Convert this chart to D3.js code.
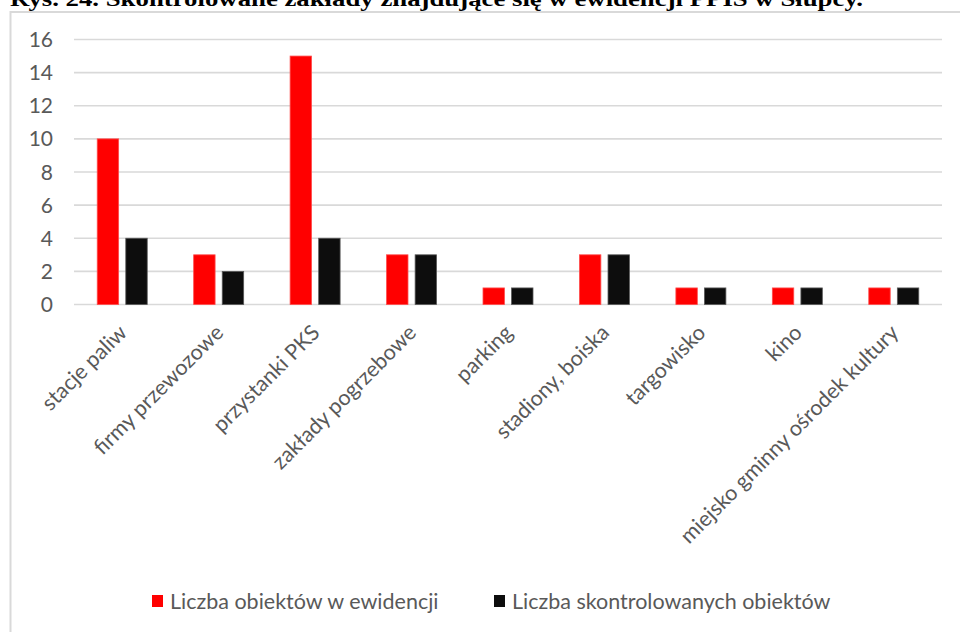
<!DOCTYPE html>
<html>
<head>
<meta charset="utf-8">
<script src="https://cdn.jsdelivr.net/npm/d3@7"></script>
<style>
    body { margin: 0; background: #fff; }
    svg { display: block; }
</style>
</head>
<body>
<svg id="base" width="960" height="632"></svg>
<script>
(function () {
    // data
    const categories = [
        "stacje paliw",
        "firmy przewozowe",
        "przystanki PKS",
        "zakłady pogrzebowe",
        "parking",
        "stadiony, boiska",
        "targowisko",
        "kino",
        "miejsko gminny ośrodek kultury",
    ];
    const seriesNames = ["Liczba obiektów w ewidencji", "Liczba skontrolowanych obiektów"];
    const inRegister = [10, 3, 15, 3, 1, 3, 1, 1, 1];
    const inspected = [4, 2, 4, 3, 1, 3, 1, 1, 1];
    const yTicks = [0, 2, 4, 6, 8, 10, 12, 14, 16];
    const colors = ["#ff0000", "#0d0d0d"];
    const strokes = ["#ff4d4d", "#595959"];
    const title = "Rys. 24. Skontrolowane zakłady znajdujące się w ewidencji PPIS w Słupcy.";

    const svg = d3.select("#base");
    const font = "Lato, 'Open Sans', sans-serif";
    const fontSize = 21.5;

    // title (cut at the top like the scan)
    svg.append("text")
        .attr("x", 10)
        .attr("y", 6)
        .attr("font-family", "'Liberation Serif', 'Times New Roman', serif")
        .attr("font-weight", "bold")
        .attr("font-size", 20)
        .attr("fill", "#000")
        .attr("textLength", 853)
        .attr("lengthAdjust", "spacingAndGlyphs")
        .text(title);

    // frame
    svg.append("path")
        .attr("d", "M10.5,632 V12 H960")
        .attr("fill", "none")
        .attr("stroke", "#d9d9d9")
        .attr("stroke-width", 2);

    // scales
    const left = 74, right = 942, top = 39.5, bottom = 304.5;
    const x0 = d3.scaleBand().domain(categories).range([left, right]).padding(0);
    const x1 = d3.scaleBand().domain([0, 1]).range([-25, 25]).paddingInner(0.25).paddingOuter(0);
    const y = d3.scaleLinear().domain([0, 16]).range([bottom, top]);

    // grid
    svg.append("g")
        .selectAll("line")
        .data(yTicks)
        .enter()
        .append("line")
        .attr("x1", left)
        .attr("x2", right)
        .attr("y1", (d) => y(d))
        .attr("y2", (d) => y(d))
        .attr("stroke", "#d9d9d9")
        .attr("stroke-width", 1.6);

    // y labels
    svg.append("g")
        .selectAll("text")
        .data(yTicks)
        .enter()
        .append("text")
        .attr("x", 53)
        .attr("y", (d) => y(d))
        .attr("dy", "0.36em")
        .attr("text-anchor", "end")
        .attr("font-family", font)
        .attr("font-size", 21)
        .attr("fill", "#595959")
        .text((d) => d);

    // bars
    const rows = categories.map((c, i) => ({ cat: c, vals: [inRegister[i], inspected[i]] }));
    const group = svg.append("g")
        .selectAll("g")
        .data(rows)
        .enter()
        .append("g")
        .attr("transform", (d) => `translate(${x0(d.cat) + x0.bandwidth() / 2},0)`);

    group.selectAll("rect")
        .data((d) => d.vals.map((v, k) => ({ k: k, v: v })))
        .enter()
        .append("rect")
        .attr("x", (d) => x1(d.k))
        .attr("width", x1.bandwidth())
        .attr("y", (d) => y(d.v))
        .attr("height", (d) => y(0) - y(d.v))
        .attr("fill", (d) => colors[d.k])
        .attr("stroke", (d) => strokes[d.k])
        .attr("stroke-width", 0.8);

    // x labels
    svg.append("g")
        .selectAll("text")
        .data(categories)
        .enter()
        .append("text")
        .attr("transform", (d) => `translate(${x0(d) + x0.bandwidth() / 2 + 6},334) rotate(-45)`)
        .attr("text-anchor", "end")
        .attr("font-family", font)
        .attr("font-size", fontSize)
        .attr("fill", "#595959")
        .text((d) => d);

    // legend
    const legendX = [152, 494];
    const legend = svg.append("g")
        .selectAll("g")
        .data(seriesNames)
        .enter()
        .append("g")
        .attr("transform", (d, i) => `translate(${legendX[i]},601)`);

    legend.append("rect")
        .attr("x", 0)
        .attr("y", -6)
        .attr("width", 11)
        .attr("height", 12)
        .attr("fill", (d, i) => colors[i]);

    legend.append("text")
        .attr("x", 18)
        .attr("y", 0)
        .attr("dy", "0.36em")
        .attr("font-family", font)
        .attr("font-size", fontSize)
        .attr("fill", "#595959")
        .text((d) => d);
})();
</script>
</body>
</html>
